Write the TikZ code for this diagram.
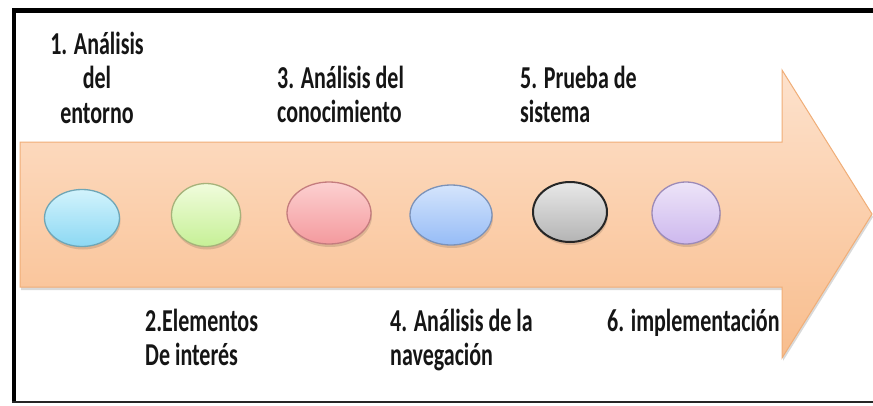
\documentclass[tikz,border=0pt]{standalone}
\usepackage{fontspec}
\setmainfont{Carlito}
\usepackage{graphicx}
\usetikzlibrary{shapes.geometric}
\definecolor{txt}{HTML}{151515}
\definecolor{arrtop}{HTML}{FDE2CD}
\definecolor{arrmid}{HTML}{FBCFAC}
\definecolor{arrbot}{HTML}{F8BD8D}
\definecolor{arrline}{HTML}{F0AE78}
\definecolor{cyT}{HTML}{D2F3FC}\definecolor{cyB}{HTML}{8CD8F3}\definecolor{cyL}{HTML}{6FA6B6}
\definecolor{grT}{HTML}{F0FCDC}\definecolor{grB}{HTML}{C6F096}\definecolor{grL}{HTML}{A6B27A}
\definecolor{pkT}{HTML}{FCD0D0}\definecolor{pkB}{HTML}{F49A9E}\definecolor{pkL}{HTML}{C47C7E}
\definecolor{blT}{HTML}{D4E4FC}\definecolor{blB}{HTML}{96BCF6}\definecolor{blL}{HTML}{7C92B8}
\definecolor{gyT}{HTML}{E8E8E8}\definecolor{gyB}{HTML}{B4B4B4}\definecolor{gyL}{HTML}{262626}
\definecolor{puT}{HTML}{EDE4F8}\definecolor{puB}{HTML}{CDB8EE}\definecolor{puL}{HTML}{9C8AB8}
\newcommand{\lines}[2]{\scalebox{1}[1.45]{\begin{tabular}[t]{@{}#1@{}}#2\end{tabular}}}
\begin{document}
\begin{tikzpicture}[x=1pt,y=-1pt,
  lbl/.style={inner sep=0pt, text=txt, font=\fontsize{22}{24}\selectfont\bfseries},
  dot/.style={ellipse, inner sep=0pt, line width=1.3pt},
  shadow/.style={ellipse, inner sep=0pt, fill=black, opacity=0.12},
  arrowbody/.style={top color=arrtop, bottom color=arrbot, middle color=arrmid, draw=arrline, line width=1pt}]
\useasboundingbox (0,0) rectangle (873,405);
\fill[white] (0,0) rectangle (873,405);
% frame
\draw[line width=4.5pt] (880,10.5) -- (14,10.5) -- (14,403);
\draw[line width=2pt, black!85] (12,402) -- (880,402);
% arrow shadow and body
\fill[black, opacity=0.15] (21,145) -- (783,145) -- (783,73) -- (873,217) -- (783,361) -- (783,290) -- (21,290) -- cycle;
\path[arrowbody] (20,142) -- (782,142) -- (782,70) -- (872,214) -- (782,358) -- (782,287) -- (20,287) -- cycle;
% circle shadows
\node[shadow, minimum width=75pt, minimum height=57pt] (s1) at (83,221) {};
\node[shadow, minimum width=69pt, minimum height=63pt] (s2) at (207,218) {};
\node[shadow, minimum width=84pt, minimum height=62pt] (s3) at (330,216) {};
\node[shadow, minimum width=82pt, minimum height=60pt] (s4) at (452,218) {};
\node[shadow, minimum width=74pt, minimum height=60pt] (s5) at (571,215) {};
\node[shadow, minimum width=68pt, minimum height=62pt] (s6) at (687,216) {};
% circles
\node[dot, minimum width=75pt, minimum height=57pt, top color=cyT, bottom color=cyB, draw=cyL] (c1) at (82,218) {};
\node[dot, minimum width=69pt, minimum height=63pt, top color=grT, bottom color=grB, draw=grL] (c2) at (206,215) {};
\node[dot, minimum width=84pt, minimum height=62pt, top color=pkT, bottom color=pkB, draw=pkL] (c3) at (329,213) {};
\node[dot, minimum width=82pt, minimum height=60pt, top color=blT, bottom color=blB, draw=blL] (c4) at (451,215) {};
\node[dot, minimum width=74pt, minimum height=60pt, top color=gyT, bottom color=gyB, draw=gyL, line width=2pt] (c5) at (570,212) {};
\node[dot, minimum width=68pt, minimum height=62pt, top color=puT, bottom color=puB, draw=puL] (c6) at (686,213) {};
% labels
\node[lbl, anchor=base] (t1) at (97,54) {\lines{c}{1. Análisis\\del\\entorno}};
\node[lbl, anchor=base west] (t3) at (277,88) {\lines{l}{3. Análisis del\\conocimiento}};
\node[lbl, anchor=base west] (t5) at (520,88) {\lines{l}{5. Prueba de\\sistema}};
\node[lbl, anchor=base west] (t2) at (145,331) {\lines{l}{2.Elementos\\De interés}};
\node[lbl, anchor=base west] (t4) at (390,331) {\lines{l}{4. Análisis de la\\navegación}};
\node[lbl, anchor=base west] (t6) at (607,331) {\lines{l}{6. implementación}};
\end{tikzpicture}
\end{document}
